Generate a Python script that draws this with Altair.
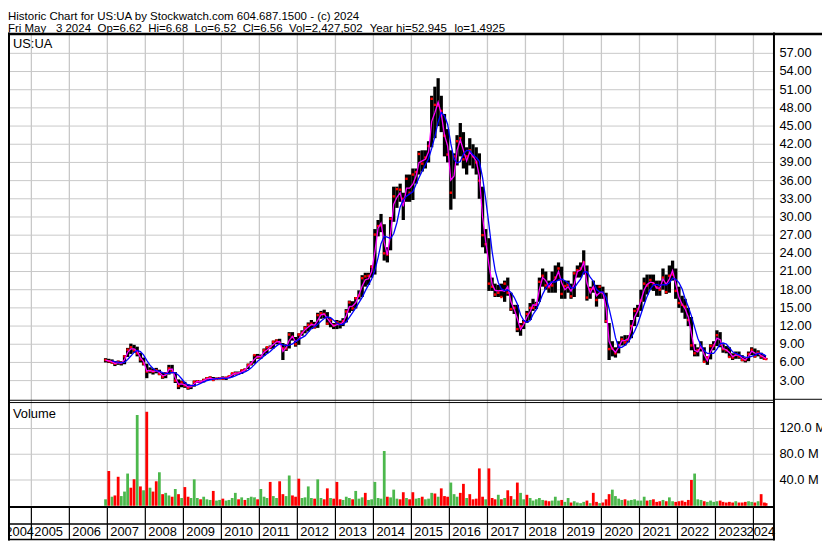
import altair as alt
import pandas as pd

# ---------------- data (monthly, Dec 2006 .. May 2024) ----------------
LOW = [6.0,
       5.9, 5.8, 5.4, 5.6, 5.5, 5.7, 6.9, 7.4, 7.6, 7.0, 6.0, 5.5,
       3.4, 4.2, 4.0, 4.2, 3.9, 3.3, 3.4, 4.0, 4.2, 2.6, 1.6, 1.9,
       1.8, 1.5, 1.6, 2.0, 2.6, 2.6, 2.7, 3.0, 3.1, 3.0, 3.1, 3.2,
       3.2, 3.1, 3.4, 3.6, 4.0, 4.0, 4.1, 4.5, 4.9, 5.5, 5.8, 6.6,
       6.6, 7.1, 7.5, 8.2, 8.3, 9.0, 9.0, 6.4, 7.9, 8.3, 9.6, 8.6,
       8.9, 10.4, 10.8, 11.1, 11.5, 11.6, 11.7, 13.2, 13.3, 12.2, 11.8, 11.5,
       11.5, 11.6, 12.0, 12.6, 14.2, 14.5, 14.9, 16.4, 16.8, 18.5, 18.8, 20.0,
       20.5, 26.8, 27.5, 22.8, 22.5, 24.5, 29.2, 31.5, 32.5, 29.5, 32.5, 32.5,
       32.8, 35.5, 37.0, 37.5, 38.0, 39.0, 41.5, 43.0, 45.0, 44.0, 40.0, 39.0,
       31.2, 33.0, 38.5, 40.0, 38.0, 37.0, 38.5, 38.0, 37.0, 33.0, 25.0, 24.0,
       17.8, 17.8, 16.8, 16.8, 16.8, 16.0, 17.0, 14.5, 14.0, 11.0, 10.4, 11.5,
       12.5, 13.0, 14.5, 14.8, 16.0, 18.5, 18.0, 17.5, 17.5, 17.5, 19.5, 16.5,
       16.5, 17.5, 16.5, 16.8, 20.0, 20.0, 20.5, 16.2, 16.5, 17.5, 15.2, 16.5,
       16.5, 12.5, 6.4, 7.0, 6.8, 7.5, 8.8, 8.8, 9.3, 10.0, 12.0, 13.5,
       14.5, 16.0, 17.2, 18.0, 17.8, 17.0, 17.0, 18.0, 17.3, 17.5, 19.5, 16.5,
       15.0, 14.2, 13.2, 12.0, 8.0, 7.0, 7.0, 7.8, 6.0, 5.6, 6.5, 8.0,
       8.7, 8.5, 7.6, 7.5, 6.8, 6.4, 6.6, 6.6, 6.2, 6.0, 6.2, 7.2,
       6.8, 7.0, 6.6, 6.4, 6.52]

HIGH = [6.7,
        6.6, 6.5, 6.2, 6.3, 6.2, 7.2, 8.4, 9.1, 8.9, 8.6, 7.6, 6.8,
        5.8, 5.2, 5.0, 5.1, 4.8, 4.3, 4.4, 5.6, 5.6, 4.4, 3.2, 3.0,
        2.8, 2.4, 2.3, 3.0, 3.1, 3.0, 3.3, 3.6, 3.7, 3.6, 3.5, 3.6,
        3.7, 3.6, 3.8, 4.3, 4.5, 4.5, 4.8, 5.0, 5.8, 6.2, 7.3, 7.4,
        7.3, 8.3, 8.6, 8.8, 9.6, 9.8, 9.9, 9.2, 9.0, 11.0, 11.0, 10.2,
        10.8, 11.3, 12.0, 12.6, 13.0, 12.7, 14.2, 14.5, 14.7, 14.3, 13.3, 12.5,
        13.0, 12.9, 13.3, 14.8, 16.2, 16.1, 16.8, 17.9, 20.4, 20.8, 20.8, 22.0,
        28.0, 29.5, 30.5, 28.8, 25.0, 30.0, 35.0, 35.0, 35.5, 34.0, 37.0, 37.0,
        38.0, 38.0, 40.9, 41.0, 41.0, 42.5, 50.0, 51.5, 52.9, 50.0, 47.0, 44.5,
        41.0, 40.5, 43.5, 45.5, 44.0, 41.5, 43.0, 42.0, 41.5, 40.5, 35.0, 28.0,
        26.5, 20.0, 19.0, 18.8, 19.0, 19.5, 20.0, 17.5, 15.5, 15.5, 12.5, 13.0,
        14.5, 15.8, 16.5, 16.0, 20.0, 21.5, 21.0, 19.5, 21.0, 22.0, 22.5, 21.8,
        19.5, 19.5, 19.0, 21.0, 22.0, 22.5, 24.5, 22.0, 18.5, 19.5, 18.8, 18.8,
        18.5, 17.5, 12.5, 9.5, 8.5, 9.5, 10.3, 10.5, 10.5, 13.0, 15.0, 15.5,
        18.0, 20.0, 20.5, 20.5, 20.5, 19.5, 19.5, 21.5, 20.5, 22.0, 22.8, 21.5,
        18.5, 17.0, 16.5, 15.0, 13.5, 9.0, 8.5, 9.5, 8.5, 7.0, 9.0, 9.5,
        11.3, 11.0, 9.0, 8.7, 8.5, 7.5, 7.8, 7.8, 7.2, 6.8, 7.8, 8.5,
        8.3, 8.0, 7.6, 7.2, 6.68]

CLOSE = [6.4,
         6.2, 6.0, 5.8, 6.1, 5.9, 7.0, 8.1, 8.5, 8.0, 7.5, 6.5, 5.8,
         4.5, 4.6, 4.5, 4.7, 4.1, 3.6, 4.2, 5.0, 4.5, 3.0, 2.1, 2.7,
         2.2, 1.8, 2.1, 2.8, 2.9, 2.8, 3.1, 3.4, 3.5, 3.1, 3.3, 3.4,
         3.3, 3.5, 3.7, 4.2, 4.2, 4.2, 4.7, 4.8, 5.6, 5.8, 7.2, 6.9,
         6.9, 8.0, 8.5, 8.5, 9.4, 9.6, 9.2, 8.3, 8.3, 10.6, 10.2, 9.0,
         10.6, 10.9, 11.7, 12.2, 12.4, 11.8, 13.8, 14.1, 14.0, 12.4, 13.0, 12.1,
         12.6, 12.4, 12.8, 14.4, 15.9, 14.9, 16.6, 17.0, 19.9, 20.2, 20.3, 21.8,
         27.1, 28.5, 28.6, 24.0, 23.8, 29.7, 33.4, 34.6, 34.5, 33.0, 36.3, 34.0,
         37.0, 37.4, 40.4, 38.8, 39.8, 41.7, 49.5, 48.5, 48.4, 47.5, 43.4, 40.3,
         34.0, 40.0, 42.5, 43.0, 39.5, 40.0, 41.0, 40.0, 39.0, 36.0, 27.0, 25.5,
         19.0, 18.5, 17.2, 17.5, 16.8, 19.0, 17.5, 14.8, 15.0, 11.5, 12.0, 12.6,
         14.0, 15.0, 15.0, 15.6, 19.3, 20.3, 18.7, 18.4, 18.7, 20.0, 21.5, 17.3,
         18.6, 18.8, 16.9, 20.7, 21.2, 21.5, 22.5, 16.7, 18.1, 18.2, 16.3, 18.5,
         17.5, 12.8, 8.2, 8.3, 7.5, 8.8, 9.8, 9.3, 9.7, 12.0, 14.5, 14.8,
         16.2, 19.0, 18.7, 19.6, 19.0, 18.4, 18.0, 20.0, 17.6, 20.3, 20.5, 17.8,
         15.8, 15.5, 15.2, 13.0, 8.8, 7.5, 8.0, 8.4, 6.1, 6.8, 8.7, 8.8,
         10.5, 8.9, 8.2, 8.0, 6.9, 6.8, 7.3, 7.0, 6.4, 6.4, 7.4, 8.1,
         7.0, 7.6, 7.0, 6.6, 6.56]

MA_FAST = [6.35,
           6.25, 6.15, 5.8, 5.95, 5.85, 6.45, 7.65, 8.25, 8.25, 7.8, 6.8, 6.15,
           4.6, 4.7, 4.5, 4.65, 4.35, 3.8, 3.9, 4.8, 4.9, 3.5, 2.4, 2.45,
           2.3, 1.95, 1.95, 2.5, 2.85, 2.8, 3.0, 3.3, 3.4, 3.3, 3.3, 3.4,
           3.45, 3.35, 3.6, 3.95, 4.25, 4.25, 4.45, 4.75, 5.35, 5.85, 6.55, 7.0,
           6.95, 7.7, 8.05, 8.5, 8.95, 9.4, 9.45, 7.8, 8.45, 9.65, 10.3, 9.4,
           9.85, 10.85, 11.4, 11.85, 12.25, 12.15, 12.95, 13.85, 14.0, 13.25, 12.55, 12.0,
           12.25, 12.25, 12.65, 13.7, 15.2, 15.3, 15.85, 17.15, 18.6, 19.65, 19.8, 21.0,
           24.25, 28.15, 29.0, 25.8, 23.75, 27.25, 32.1, 33.25, 34.0, 31.75, 34.75, 34.75,
           35.4, 36.75, 38.95, 39.25, 39.5, 40.75, 45.75, 47.25, 48.95, 47.0, 43.5, 41.75,
           36.1, 36.75, 41.0, 42.75, 41.0, 39.25, 40.75, 40.0, 39.25, 36.75, 30.0, 26.0,
           22.15, 18.9, 17.9, 17.8, 17.9, 17.75, 18.5, 16.0, 14.75, 13.25, 11.45, 12.25,
           13.5, 14.4, 15.5, 15.4, 18.0, 20.0, 19.5, 18.5, 19.25, 19.75, 21.0, 19.15,
           18.0, 18.5, 17.75, 18.9, 21.0, 21.25, 22.5, 19.1, 17.5, 18.5, 17.0, 17.5,
           17.5, 15.0, 9.45, 8.25, 7.65, 8.5, 9.55, 9.65, 9.9, 11.5, 13.5, 14.5,
           16.25, 18.0, 18.85, 19.25, 19.15, 18.25, 18.25, 19.75, 18.9, 19.75, 21.15, 19.0,
           16.75, 15.6, 14.85, 13.5, 10.75, 8.0, 7.75, 8.65, 7.25, 6.3, 7.75, 8.75,
           10.0, 9.75, 8.3, 8.1, 7.65, 6.95, 7.2, 7.2, 6.7, 6.4, 7.0, 7.85,
           7.55, 7.5, 7.1, 6.8, 6.6]

MA_SLOW = [None,
           None, 6.25, 6.14, 6.04, 5.94, 6.01, 6.48, 7.05, 7.65, 7.99, 7.78, 7.25,
           6.34, 5.56, 4.99, 4.61, 4.55, 4.33, 4.18, 4.21, 4.35, 4.28, 3.9, 3.31,
           2.66, 2.28, 2.16, 2.18, 2.31, 2.53, 2.79, 2.99, 3.13, 3.25, 3.33, 3.35,
           3.36, 3.38, 3.45, 3.59, 3.79, 4.01, 4.23, 4.43, 4.7, 5.1, 5.63, 6.19,
           6.59, 7.05, 7.43, 7.8, 8.3, 8.73, 9.08, 8.9, 8.78, 8.84, 9.05, 9.45,
           9.8, 10.1, 10.38, 10.99, 11.59, 11.91, 12.3, 12.8, 13.24, 13.51, 13.41, 12.95,
           12.51, 12.26, 12.29, 12.71, 13.45, 14.21, 15.01, 15.88, 16.73, 17.81, 18.8, 19.76,
           21.18, 23.3, 25.6, 26.8, 26.68, 26.45, 27.23, 29.09, 31.65, 32.78, 33.44, 33.81,
           34.16, 35.41, 36.46, 37.59, 38.61, 39.61, 41.31, 43.31, 45.68, 47.24, 46.68, 45.3,
           42.09, 39.53, 38.9, 39.15, 40.38, 41.0, 40.94, 40.25, 39.81, 39.19, 36.5, 33.0,
           28.73, 24.26, 21.24, 19.19, 18.13, 17.84, 17.99, 17.54, 16.75, 15.63, 13.86, 12.93,
           12.61, 12.9, 13.91, 14.7, 15.83, 17.23, 18.23, 19.0, 19.31, 19.25, 19.63, 19.79,
           19.48, 19.16, 18.35, 18.29, 19.04, 19.73, 20.91, 20.96, 20.09, 19.4, 18.03, 17.63,
           17.63, 16.75, 14.86, 12.55, 10.09, 8.46, 8.49, 8.84, 9.4, 10.15, 11.14, 12.35,
           13.94, 15.56, 16.9, 18.09, 18.81, 18.88, 18.73, 18.85, 18.79, 19.16, 19.89, 19.7,
           19.16, 18.13, 16.55, 15.18, 13.68, 11.78, 10.0, 8.79, 7.91, 7.49, 7.49, 7.51,
           8.2, 9.06, 9.2, 9.04, 8.45, 7.75, 7.48, 7.25, 7.01, 6.88, 6.83, 6.99,
           7.2, 7.48, 7.5, 7.24, 7.0]

VOLUME_M = [10,
            54, 14, 16, 45, 15, 22, 50, 28, 41, 141, 30, 24,
            146, 28, 22, 38, 52, 18, 20, 16, 14, 26, 18, 12,
            29, 14, 12, 41, 12, 10, 14, 10, 9, 23, 8, 9,
            11, 8, 9, 12, 20, 10, 13, 9, 12, 14, 13, 10,
            26, 14, 12, 37, 15, 12, 38, 18, 15, 47, 16, 14,
            42, 12, 13, 30, 12, 11, 41, 12, 10, 27, 12, 11,
            37, 10, 9, 14, 12, 10, 23, 11, 13, 20, 9, 10,
            37, 12, 11, 85, 14, 13, 25, 11, 10, 21, 12, 10,
            21, 11, 12, 14, 10, 11, 20, 19, 14, 27, 15, 14,
            36, 18, 14, 20, 34, 12, 18, 10, 11, 58, 14, 10,
            58, 12, 10, 17, 10, 12, 24, 15, 10, 36, 20, 10,
            17, 12, 8, 10, 12, 9, 8, 7, 8, 14, 8, 9,
            6, 12, 5, 7, 5, 4, 6, 8, 4, 20, 6, 4,
            5, 10, 18, 25, 15, 11, 9, 10, 8, 9, 10, 8,
            8, 14, 8, 9, 10, 6, 7, 9, 7, 13, 7, 6,
            7, 8, 6, 9, 40, 50, 10, 9, 7, 6, 8, 6,
            7, 8, 6, 5, 6, 5, 7, 5, 5, 6, 7, 6,
            5, 7, 18, 5, 4]

VOL_DIR = ("u "
           "d u d d u u u d d u d u "
           "d u d d u d u u d u d u "
           "d d u u u d u u u d u u "
           "d u u u u d u d u u u d "
           "u u u d u u d d u u d d "
           "d u u u u d u u d d u d "
           "d d u u u d u u u d u u "
           "u u u u d u u u d d u d "
           "d u u d u u u d u d d d "
           "u u u d d u d d d d d u "
           "d d d u d u d d u d u u "
           "d u u u u u d d u u u d "
           "u u d u u u u d u d d u "
           "d d d u u u u d u u u u "
           "u u d u d d d u d u u d "
           "d d d d d u u u d u u u "
           "u d d d d d u d d d u u "
           "d u d d d").split()

YEARS = list(range(2004, 2025))
PRICE_TICKS = [3, 6, 9, 12, 15, 18, 21, 24, 27, 30, 33, 36, 39, 42, 45, 48, 51, 54, 57]
VOLUME_TICKS = [40, 80, 120]

HEADER_1 = "Historic Chart for US:UA by Stockwatch.com 604.687.1500 - (c) 2024"
HEADER_2 = ["Fri May", "3 2024", "Op=6.62", "Hi=6.68", "Lo=6.52", "Cl=6.56",
            "Vol=2,427,502", "Year hi=52.945", "lo=1.4925"]

# ---------------- table ----------------
N = len(LOW)
dates = pd.date_range("2006-12-01", periods=N, freq="MS") + pd.Timedelta(days=14)
date_str = [d.strftime("%Y-%m-%d") for d in dates]
date_str[-1] = "2024-05-02"
df = pd.DataFrame({"date": date_str, "low": LOW, "high": HIGH, "close": CLOSE,
                   "fast": MA_FAST, "slow": MA_SLOW, "vol": VOLUME_M, "dir": VOL_DIR})

years_df = pd.DataFrame({"date": [f"{y}-01-01" for y in YEARS], "label": [str(y) for y in YEARS]})
grid_years = years_df[years_df["label"] != "2004"]
plab = pd.DataFrame({"p": PRICE_TICKS, "t": [f"{p:.2f}" for p in PRICE_TICKS]})
vlab = pd.DataFrame({"v": VOLUME_TICKS, "t": [f"{v:.1f} M" for v in VOLUME_TICKS]})
one = pd.DataFrame({"a": [0]})

# ---------------- layout ----------------
W, H = 822, 535
XR = 773
FONT = "Arial"
GRID = "#c8c8c8"
HDR_SIZE = 11.6
HDR2_X = [0, 48.4, 90.4, 141.6, 188.4, 237.0, 283.8, 365.3, 450.8]
x_scale = alt.Scale(domain=["2004-07-08", "2024-05-25"], range=[0, XR])
p_scale = alt.Scale(domain=[0, 60], range=[392, 24.8])
v_scale = alt.Scale(domain=[0, 160], range=[500, 396])


def X(f):
    return alt.X(f"{f}:T", scale=x_scale, axis=None)


def PY(f):
    return alt.Y(f"{f}:Q", scale=p_scale, axis=None)


def VY(f):
    return alt.Y(f"{f}:Q", scale=v_scale, axis=None)


def hline(y, x1, x2, w, color="black"):
    return alt.Chart(one).mark_rule(color=color, strokeWidth=w).encode(
        x=alt.value(x1), x2=alt.value(x2), y=alt.value(y))


def vline(x, y1, y2, w, color="black"):
    return alt.Chart(one).mark_rule(color=color, strokeWidth=w).encode(
        x=alt.value(x), y=alt.value(y1), y2=alt.value(y2))


def label(text, x, y, size=13):
    return alt.Chart(pd.DataFrame({"t": [text]})).mark_text(
        align="left", baseline="alphabetic", font=FONT, fontSize=size, color="black"
    ).encode(x=alt.value(x), y=alt.value(y), text="t:N")


def year_text(sel, dx):
    return alt.Chart(sel).mark_text(
        align="left", baseline="alphabetic", font=FONT, fontSize=13, color="black", dx=dx
    ).encode(x=X("date"), y=alt.value(531), text="label:N")


layers = []
# grid
layers.append(alt.Chart(grid_years).mark_rule(color=GRID, strokeWidth=1.3).encode(
    x=X("date"), y=alt.value(24), y2=alt.value(500)))
layers.append(alt.Chart(plab).mark_rule(color=GRID, strokeWidth=1).encode(
    y=PY("p"), x=alt.value(0), x2=alt.value(XR)))
layers.append(alt.Chart(vlab).mark_rule(color=GRID, strokeWidth=1).encode(
    y=VY("v"), x=alt.value(0), x2=alt.value(XR)))

# volume
layers.append(alt.Chart(df).mark_bar(width=2.8).encode(
    x=X("date"), y=VY("vol"),
    color=alt.Color("dir:N", scale=alt.Scale(domain=["u", "d"], range=["#4cb84c", "#ff0000"]), legend=None)))

# price bars, closes, moving averages
layers.append(alt.Chart(df).mark_rule(color="black", strokeWidth=3.3).encode(
    x=X("date"), y=PY("low"), y2="high:Q"))
layers.append(alt.Chart(df).mark_square(color="#ff0000", size=6, opacity=1).encode(
    x=X("date"), y=PY("close")))
layers.append(alt.Chart(df).mark_line(color="#ff00ff", strokeWidth=1.3).encode(
    x=X("date"), y=PY("fast")))
layers.append(alt.Chart(df).mark_line(color="#0000ff", strokeWidth=1.3).encode(
    x=X("date"), y=PY("slow")))

# frame
layers += [
    hline(23.6, 0, W, 2.4),
    vline(1, 22, H, 2),
    vline(XR + 0.5, 22, H, 2),
    hline(393.5, 0, XR, 1),
    hline(395.8, 0, XR, 1),
    hline(392.5, XR, W, 1),
    hline(501.3, 0, XR, 2),
    hline(518.5, 0, XR, 1.5),
    hline(534, 0, XR, 1.5),
]
layers.append(alt.Chart(years_df).mark_rule(color="black", strokeWidth=1.2).encode(
    x=X("date"), y=alt.value(501), y2=alt.value(534)))

# texts
layers.append(label(HEADER_1, 0, 9, HDR_SIZE))
for txt, hx in zip(HEADER_2, HDR2_X):
    layers.append(label(txt, hx, 21.3, HDR_SIZE))
layers.append(label("US:UA", 5, 38))
layers.append(label("Volume", 5, 411))
layers.append(alt.Chart(plab).mark_text(align="left", baseline="middle", font=FONT, fontSize=13, color="black").encode(
    x=alt.value(779), y=PY("p"), text="t:N"))
layers.append(alt.Chart(vlab).mark_text(align="left", baseline="middle", font=FONT, fontSize=13, color="black").encode(
    x=alt.value(779), y=VY("v"), text="t:N"))
layers.append(year_text(years_df[years_df["label"] == "2004"], 12.2))
layers.append(year_text(years_df[~years_df["label"].isin(["2004", "2024"])], 3))
layers.append(year_text(years_df[years_df["label"] == "2024"], -7))

chart = alt.layer(*layers).resolve_scale(y="independent").properties(
    width=W, height=H, padding=0, background="white",
    autosize=alt.AutoSizeParams(type="none")
).configure_view(stroke=None)

chart.save("out.html", embed_options={"renderer": "svg", "actions": False})
